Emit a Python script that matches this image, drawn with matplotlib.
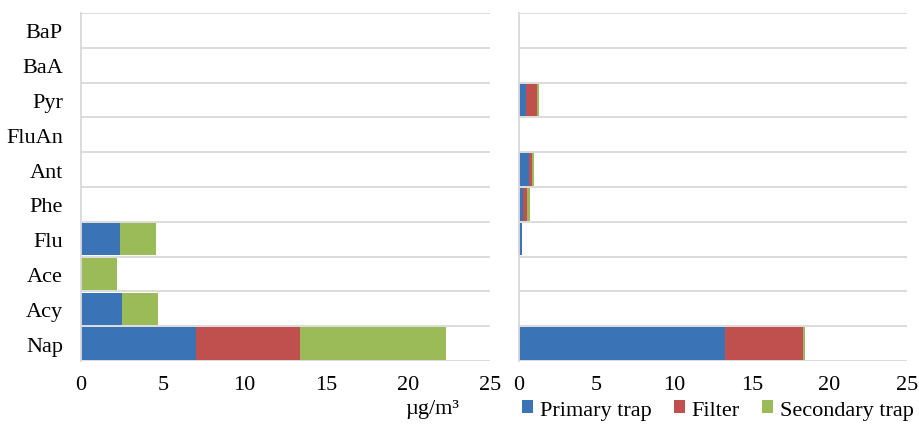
import matplotlib
matplotlib.use("Agg")
import matplotlib.pyplot as plt
import numpy as np
from matplotlib.patches import Patch

plt.rcParams["font.family"] = ["Liberation Serif", "DejaVu Serif"]

compounds = ["Nap", "Acy", "Ace", "Flu", "Phe", "Ant", "FluAn", "Pyr", "BaA", "BaP"]
series = ["Primary trap", "Filter", "Secondary trap"]
colors = ["#3a74b7", "#c0504d", "#9bbb59"]

# left panel, ug/m3
left_primary = [7.0, 2.5, 0.0, 2.4, 0, 0, 0, 0, 0, 0]
left_filter = [6.4, 0.0, 0.0, 0.0, 0, 0, 0, 0, 0, 0]
left_secondary = [8.9, 2.2, 2.2, 2.2, 0, 0, 0, 0, 0, 0]

# right panel, ug/m3
right_primary = [13.3, 0, 0, 0.19, 0.26, 0.62, 0, 0.43, 0, 0]
right_filter = [5.0, 0, 0, 0.0, 0.24, 0.22, 0, 0.72, 0, 0]
right_secondary = [0.12, 0, 0, 0.0, 0.23, 0.10, 0, 0.15, 0, 0]

W, H = 919, 427
FS = 16
fig = plt.figure(figsize=(W / 100, H / 100), dpi=100)
ax_l = fig.add_axes([81 / W, 65 / H, 409 / W, 348 / H])
ax_r = fig.add_axes([519 / W, 65 / H, 388 / W, 348 / H])

y = np.arange(len(compounds))
grid_c = "#d9d9d9"

for ax, data in ((ax_l, (left_primary, left_filter, left_secondary)),
                 (ax_r, (right_primary, right_filter, right_secondary))):
    base = np.zeros(len(compounds))
    for vals, c in zip(data, colors):
        vals = np.asarray(vals, dtype=float)
        ax.barh(y, vals, left=base, height=0.93, color=c, linewidth=0)
        base += vals
    ax.set_xlim(0, 25)
    ax.set_ylim(-0.5, len(compounds) - 0.5)
    ax.set_xticks([0, 5, 10, 15, 20, 25])
    for b in np.arange(-0.5, len(compounds), 1.0):
        ax.axhline(b, color=grid_c, linewidth=1.3, zorder=0)
    for s in ("top", "right", "bottom"):
        ax.spines[s].set_visible(False)
    ax.spines["left"].set_color(grid_c)
    ax.spines["left"].set_linewidth(1.3)
    ax.tick_params(axis="both", length=0, labelsize=FS, colors="black")
    ax.tick_params(axis="x", pad=10)

ax_l.set_yticks(y)
ax_l.set_yticklabels(compounds)
ax_l.tick_params(axis="y", pad=13)
ax_r.set_yticks([])

fig.text(432 / W, 1 - 410 / H, "\u00b5g/m\u00b3", ha="center", va="center", fontsize=FS)

handles = [Patch(facecolor=c, edgecolor="none") for c in colors]
fig.legend(handles, series, loc="center", bbox_to_anchor=(718 / W, 1 - 411 / H),
           ncol=3, frameon=False, fontsize=FS, handlelength=0.5, handleheight=0.5,
           handletextpad=0.3, columnspacing=1.0)

fig.savefig("out.png", dpi=100)
